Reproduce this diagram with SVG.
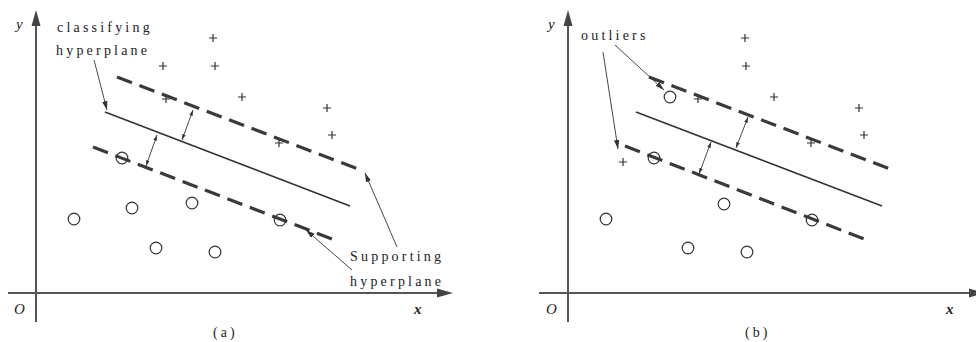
<svg xmlns="http://www.w3.org/2000/svg" width="976" height="342" viewBox="0 0 976 342">
<defs>
<style>
.axis{stroke:#555;stroke-width:2;fill:none}
.ahead{fill:#444;stroke:none}
.solid{stroke:#333;stroke-width:1.6;fill:none}
.dash{stroke:#3a3a3a;stroke-width:3.2;fill:none;stroke-dasharray:16 8}
.thin{stroke:#333;stroke-width:0.9;fill:none}
.pt{stroke:#333;stroke-width:1.2;fill:none}
.lbl{font-family:"Liberation Serif",serif;font-size:14px;letter-spacing:3.2px;fill:#222}
.ax{font-family:"Liberation Serif",serif;font-size:15px;font-style:italic;fill:#222}
.cap{font-family:"Liberation Serif",serif;font-size:14px;letter-spacing:3px;fill:#222}
</style>
<marker id="ah" viewBox="0 0 10 6" refX="10" refY="3" markerWidth="9" markerHeight="5.4" markerUnits="userSpaceOnUse" orient="auto-start-reverse">
<path d="M0,0 L10,3 L0,6 z" fill="#333"/>
</marker>
<marker id="ms" viewBox="0 0 10 6" refX="10" refY="3" markerWidth="6" markerHeight="3.6" markerUnits="userSpaceOnUse" orient="auto-start-reverse">
<path d="M0,0 L10,3 L0,6 z" fill="#333"/>
</marker>
<path id="plus" d="M-4,0 H4 M0,-4 V4" stroke="#333" stroke-width="1.2"/>
</defs>

<!-- Panel (a) -->
<g id="panel-a">
  <g id="a-axes">
    <line class="axis" x1="36" y1="322" x2="36" y2="24"/>
    <polygon class="ahead" points="36,10 31.5,26 40.5,26"/>
    <line class="axis" x1="8" y1="293" x2="439" y2="293"/>
    <polygon class="ahead" points="453,293 437,288.5 437,297.5"/>
    <text class="ax" x="16" y="29">y</text>
    <text class="ax" x="14" y="314">O</text>
    <text class="ax" x="414" y="314" font-weight="bold">x</text>
    <text class="cap" x="213" y="337">(a)</text>
  </g>
  <g id="a-hyperplanes">
    <line class="solid" x1="105" y1="112" x2="350" y2="206"/>
    <line class="dash" x1="117" y1="77" x2="358" y2="169"/>
    <line class="dash" x1="93" y1="147" x2="332" y2="239"/>
  </g>
  <g id="a-plus">
    <use href="#plus" x="213" y="38"/>
    <use href="#plus" x="163" y="66"/>
    <use href="#plus" x="215" y="66"/>
    <use href="#plus" x="166" y="99"/>
    <use href="#plus" x="242" y="97"/>
    <use href="#plus" x="327" y="108"/>
    <use href="#plus" x="332" y="135"/>
    <use href="#plus" x="279" y="143"/>
  </g>
  <g id="a-circles">
    <circle class="pt" cx="122" cy="158" r="5.8"/>
    <circle class="pt" cx="74" cy="219" r="5.8"/>
    <circle class="pt" cx="132" cy="208" r="5.8"/>
    <circle class="pt" cx="192" cy="203" r="5.8"/>
    <circle class="pt" cx="156" cy="248" r="5.8"/>
    <circle class="pt" cx="215" cy="252" r="5.8"/>
    <circle class="pt" cx="280" cy="220" r="5.8"/>
  </g>
  <g id="a-labels">
    <text class="lbl" x="57" y="32">classifying</text>
    <text class="lbl" x="56" y="55">hyperplane</text>
    <text class="lbl" x="350" y="261">Supporting</text>
    <text class="lbl" x="350" y="286">hyperplane</text>
  </g>
</g>

<!-- Panel (b) -->
<g id="panel-b">
  <g id="b-axes">
    <line class="axis" x1="568" y1="322" x2="568" y2="24"/>
    <polygon class="ahead" points="568,10 563.5,26 572.5,26"/>
    <line class="axis" x1="539" y1="293" x2="971" y2="293"/>
    <polygon class="ahead" points="985,293 969,288.5 969,297.5"/>
    <text class="ax" x="548" y="29">y</text>
    <text class="ax" x="546" y="314">O</text>
    <text class="ax" x="946" y="314" font-weight="bold">x</text>
    <text class="cap" x="745" y="337">(b)</text>
  </g>
  <g id="b-hyperplanes">
    <line class="solid" x1="636" y1="112" x2="882" y2="206"/>
    <line class="dash" x1="649" y1="77" x2="890" y2="169"/>
    <line class="dash" x1="625" y1="146" x2="864" y2="239"/>
  </g>
  <g id="b-plus">
    <use href="#plus" x="745" y="38"/>
    <use href="#plus" x="746" y="66"/>
    <use href="#plus" x="698" y="99"/>
    <use href="#plus" x="774" y="97"/>
    <use href="#plus" x="859" y="108"/>
    <use href="#plus" x="864" y="135"/>
    <use href="#plus" x="811" y="143"/>
    <use href="#plus" x="623" y="162"/>
  </g>
  <g id="b-circles">
    <circle class="pt" cx="670" cy="97" r="5.8"/>
    <circle class="pt" cx="654" cy="158" r="5.8"/>
    <circle class="pt" cx="606" cy="219" r="5.8"/>
    <circle class="pt" cx="724" cy="204" r="5.8"/>
    <circle class="pt" cx="688" cy="248" r="5.8"/>
    <circle class="pt" cx="747" cy="252" r="5.8"/>
    <circle class="pt" cx="812" cy="220" r="5.8"/>
  </g>
  <g id="b-labels">
    <text class="lbl" x="581" y="40">outliers</text>
  </g>
</g>

<g id="connectors">
  <line class="thin" x1="94" y1="60" x2="107" y2="110" marker-end="url(#ah)"/>
  <line class="thin" x1="397" y1="247" x2="365" y2="173" marker-end="url(#ah)"/>
  <line class="thin" x1="352" y1="270" x2="306" y2="230" marker-end="url(#ah)"/>
  <line class="thin" x1="193" y1="110" x2="182" y2="140" marker-start="url(#ms)" marker-end="url(#ms)"/>
  <line class="thin" x1="157" y1="135" x2="146" y2="166" marker-start="url(#ms)" marker-end="url(#ms)"/>
  <line class="thin" x1="748" y1="117" x2="736" y2="148" marker-start="url(#ms)" marker-end="url(#ms)"/>
  <line class="thin" x1="711" y1="142" x2="699" y2="174" marker-start="url(#ms)" marker-end="url(#ms)"/>
  <line class="thin" x1="615" y1="45" x2="664" y2="90" marker-end="url(#ah)"/>
  <line class="thin" x1="603" y1="52" x2="618" y2="149" marker-end="url(#ah)"/>
</g>
</svg>
